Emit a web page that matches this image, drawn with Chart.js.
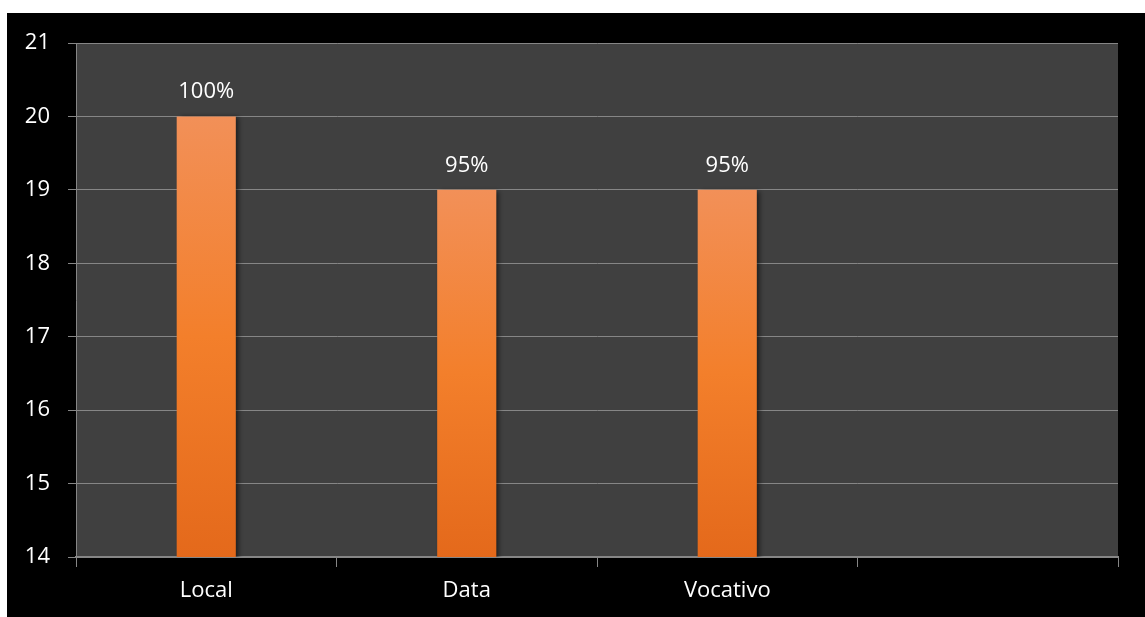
<!DOCTYPE html>
<html>
<head>
<meta charset="utf-8">
<script src="https://cdn.jsdelivr.net/npm/chart.js@4/dist/chart.umd.min.js"></script>
<style>
    html, body { margin: 0; padding: 0; background: #ffffff; }
    #wrap { width: 1145px; height: 617px; position: relative; }
</style>
</head>
<body>
<div id="wrap"><canvas id="barChart" width="1145" height="617"></canvas></div>
<script>
const categories = ['Local', 'Data', 'Vocativo', ''];
const counts = [20, 19, 19, null];
const totalCount = 20;
const yTicks = [14, 15, 16, 17, 18, 19, 20, 21];

const FONT = '"Open Sans", Lato, sans-serif';
const FONT_SIZE = 22;

// white margin at top-left, black panel behind everything else
const panelBackground = {
    id: 'panelBackground',
    beforeDraw(chart) {
        const ctx = chart.ctx;
        ctx.save();
        ctx.fillStyle = '#ffffff';
        ctx.fillRect(0, 0, chart.width, chart.height);
        ctx.fillStyle = '#000000';
        ctx.fillRect(7, 13, chart.width - 7, chart.height - 13);
        const a = chart.chartArea;
        ctx.fillStyle = '#404040';
        ctx.fillRect(a.left, a.top, a.right - a.left, a.bottom - a.top);
        ctx.restore();
    }
};

// soft shadow on the right of each bar
const barShadow = {
    id: 'barShadow',
    beforeDatasetsDraw(chart) {
        const ctx = chart.ctx;
        ctx.save();
        ctx.shadowColor = 'rgba(0, 0, 0, 0.55)';
        ctx.shadowBlur = 5;
        ctx.shadowOffsetX = 3;
        ctx.shadowOffsetY = 1;
    },
    afterDatasetsDraw(chart) {
        chart.ctx.restore();
    }
};

// percentage label above each bar
const percentLabels = {
    id: 'percentLabels',
    afterDatasetsDraw(chart) {
        const ctx = chart.ctx;
        const meta = chart.getDatasetMeta(0);
        ctx.save();
        ctx.fillStyle = '#ffffff';
        ctx.font = FONT_SIZE + 'px ' + FONT;
        ctx.textAlign = 'center';
        ctx.textBaseline = 'alphabetic';
        meta.data.forEach((bar, i) => {
            const v = counts[i];
            if (v == null) return;
            const pct = Math.round(v / totalCount * 100) + '%';
            ctx.fillText(pct, bar.x, bar.y - 18);
        });
        ctx.restore();
    }
};

function barGradient(context) {
    const chart = context.chart;
    if (!chart.chartArea) return '#F07E2A';
    const v = context.raw;
    if (v == null) return '#F07E2A';
    const yScale = chart.scales.y;
    const top = yScale.getPixelForValue(v);
    const bottom = yScale.getPixelForValue(yScale.min);
    const g = chart.ctx.createLinearGradient(0, top, 0, bottom);
    g.addColorStop(0, '#F29058');
    g.addColorStop(0.5, '#F37F2B');
    g.addColorStop(1, '#E4691B');
    return g;
}

new Chart(document.getElementById('barChart'), {
    type: 'bar',
    data: {
        labels: categories,
        datasets: [{
            data: counts,
            backgroundColor: barGradient,
            borderWidth: 0,
            categoryPercentage: 1,
            barPercentage: 0.227
        }]
    },
    options: {
        responsive: false,
        animation: false,
        layout: { padding: { top: 43, right: 27, left: 0, bottom: 0 } },
        plugins: {
            legend: { display: false },
            tooltip: { enabled: false }
        },
        scales: {
            x: {
                offset: true,
                afterFit: s => { s.height = 60; },
                grid: {
                    offset: true,
                    color: '#868686',
                    lineWidth: 1,
                    drawOnChartArea: false,
                    tickLength: 10
                },
                border: { color: '#868686', width: 2 },
                ticks: {
                    color: '#ffffff',
                    font: { family: FONT, size: FONT_SIZE },
                    padding: 11
                }
            },
            y: {
                min: yTicks[0],
                max: yTicks[yTicks.length - 1],
                afterFit: s => { s.width = 76; },
                afterBuildTicks: s => { s.ticks = yTicks.map(v => ({ value: v })); },
                grid: {
                    color: '#868686',
                    lineWidth: 1,
                    tickLength: 8
                },
                border: { color: '#868686', width: 1 },
                ticks: {
                    color: '#ffffff',
                    font: { family: FONT, size: FONT_SIZE },
                    padding: 18
                }
            }
        }
    },
    plugins: [panelBackground, barShadow, percentLabels]
});
</script>
</body>
</html>
